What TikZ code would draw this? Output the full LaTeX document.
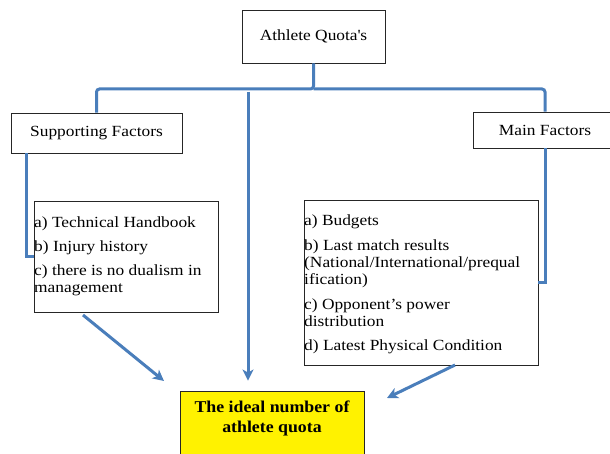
\documentclass[tikz,border=0pt]{standalone}
\usepackage{fontspec}
\setmainfont[FakeStretch=1.12, BoldFeatures={FakeStretch=1.08}]{Liberation Serif}
\usetikzlibrary{arrows.meta}
\definecolor{lineblue}{HTML}{4A7EBB}
\definecolor{boxline}{HTML}{262626}
\begin{document}
\begin{tikzpicture}[x=1pt,y=-1pt,
  box/.style={draw=boxline, line width=0.9pt, inner sep=0pt, fill=white},
  lbl/.style={font=\fontsize{15.5}{17}\selectfont},
  listtext/.style={font=\fontsize{15.5}{17}\selectfont, align=left, inner sep=0pt, anchor=north west},
  conn/.style={draw=lineblue, line width=3pt},
  arr/.style={draw=lineblue, line width=3pt, -{Stealth[length=11pt,width=11pt,inset=3pt]}}]
\useasboundingbox (0,0) rectangle (610,454);
\fill[white] (0,0) rectangle (610,454);

% top boxes
\node[box, lbl, minimum width=143pt, minimum height=53pt] (quota) at (313.5,36.5) {Athlete Quota\textquotesingle s};
\node[box, lbl, minimum width=171pt, minimum height=40pt] (sf) at (96.5,133) {Supporting Factors};
\node[box, lbl, minimum width=144pt, minimum height=36pt] (mf) at (545,130) {Main Factors};

% list boxes
\node[box, minimum width=184pt, minimum height=111pt] (slist) at (126,256.5) {};
\node[listtext] (stext) at (34,216.5) {a) Technical Handbook\\[7pt]b) Injury history\\[7pt]c) there is no dualism in\\management};
\node[box, minimum width=234pt, minimum height=165pt] (mlist) at (421,282.5) {};
\node[listtext] (mtext) at (304,214.5) {a) Budgets\\[8pt]b) Last match results\\(National/International/prequal\\ification)\\[8pt]c) Opponent's power\\distribution\\[7pt]d) Latest Physical Condition};

% result box
\node[draw=boxline, line width=0.9pt, fill=yellow, minimum width=184pt, minimum height=70pt, inner sep=0pt] (ideal) at (272,426) {};
\node[font=\bfseries\fontsize{16.5}{20}\selectfont, align=center, inner sep=0pt] (idealtext) at (272,418) {The ideal number of\\athlete quota};

% tree connectors
\coordinate (hub) at (313.5,89);
\draw[conn, rounded corners=3pt] (quota.south) -- (hub) -| (sf.north);
\draw[conn, rounded corners=3pt] (hub) -| (mf.north);
\draw[conn] ([xshift=16pt]sf.south west) |- (slist.west);
\draw[conn] (mf.south) |- (mlist.east);

% arrows to result
\coordinate (midtop) at (248,92);
\draw[arr, shorten >=10pt] (midtop) -- (midtop |- ideal.north);
\coordinate (lstart) at (83,315);
\coordinate (lend) at (164,381);
\draw[arr] (lstart) -- (lend);
\coordinate (rstart) at (455,365);
\coordinate (rend) at (387,398);
\draw[arr] (rstart) -- (rend);
\end{tikzpicture}
\end{document}
